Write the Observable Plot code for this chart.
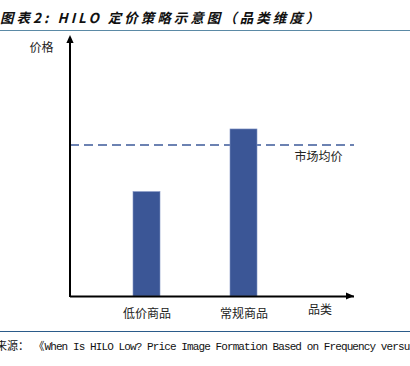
<!DOCTYPE html>
<html>
<head>
<meta charset="utf-8">
<script src="https://cdn.jsdelivr.net/npm/d3@7"></script>
<script src="https://cdn.jsdelivr.net/npm/@observablehq/plot@0.6"></script>
<style>
  html, body { margin: 0; padding: 0; background: #fff; }
  body { width: 410px; height: 366px; overflow: hidden; position: relative; }
  #title {
    line-height: 28px; padding-top: 3px; box-sizing: border-box;
    height: 31px;
    border-bottom: 1.5px solid #5b8aa6;
    font-family: "Noto Sans CJK SC", sans-serif; font-weight: bold; font-style: italic;
    font-size: 13.5px; letter-spacing: 3px; color: #111; white-space: nowrap;
  }
  #chart { height: 300px; }
  #chart svg { display: block; }
  #caption {
    border-top: 1.5px solid #2b5b8a; height: 30px; line-height: 27px;
    white-space: nowrap; overflow: hidden; color: #111; font-size: 11px;
  }
  #caption .cjk { font-family: "Noto Sans CJK SC", sans-serif; }
  #caption .lat { font-family: "Liberation Mono", monospace; letter-spacing: -0.9px; }
</style>
</head>
<body>
<div id="title"></div>
<div id="chart"></div>
<div id="caption"></div>
<script>
const titleText = "图表2: HILO 定价策略示意图（品类维度）";
const captionPrefix = "来源：";
const captionBook = "《";
const captionLatin = "When Is HILO Low? Price Image Formation Based on Frequency versus Depth of Price Advantage》";

const categories = ["低价商品", "常规商品"];
const prices = [40, 64];
const marketAvg = 58;
const marketLabel = "市场均价";
const yLabel = "价格";
const xLabel = "品类";

document.getElementById("title").textContent = titleText;
const cap = document.getElementById("caption");
cap.innerHTML = `<span class="cjk" style="margin-left:-4px">${captionPrefix}</span><span class="cjk" style="margin-left:10px">${captionBook}</span><span class="lat">${captionLatin}</span>`;

const data = categories.map((c, i) => ({category: c, price: prices[i]}));

const axesMark = (index, scales, values, dims) => {
  const {width, height, marginLeft, marginRight, marginTop, marginBottom} = dims;
  const x0 = marginLeft, y0 = height - marginBottom, yTop = marginTop, xEnd = width - marginRight;
  const g = d3.create("svg:g");
  g.append("line").attr("x1", x0).attr("x2", x0).attr("y1", y0 + 1).attr("y2", yTop + 6)
    .attr("stroke", "#000").attr("stroke-width", 2);
  g.append("path").attr("d", `M${x0},${yTop}L${x0 + 3.6},${yTop + 8}L${x0 - 3.6},${yTop + 8}Z`).attr("fill", "#000");
  g.append("path").attr("d", `M${xEnd},${y0}L${xEnd - 8},${y0 - 3.6}L${xEnd - 8},${y0 + 3.6}Z`).attr("fill", "#000");
  return g.node();
};

const chart = Plot.plot({
  width: 410,
  height: 300,
  marginLeft: 70,
  marginRight: 56,
  marginTop: 4,
  marginBottom: 35,
  style: {fontFamily: "'Noto Sans CJK SC', sans-serif", fontSize: "12px", color: "#222", background: "#fff"},
  x: {domain: categories, insetRight: 33.5, paddingInner: 0.723, paddingOuter: 0.646, tickSize: 0, tickPadding: 13, label: null},
  y: {domain: [0, 100], axis: null},
  marks: [
    Plot.ruleY([marketAvg], {stroke: "#3d5a99", strokeWidth: 1.5, strokeDasharray: "9,5"}),
    Plot.barY(data, {x: "category", y: "price", fill: "#3b5696", stroke: "#8193c4", strokeWidth: 0.6}),
    Plot.ruleY([0], {stroke: "#000", strokeWidth: 2}),
    axesMark,
    Plot.text([marketLabel], {y: marketAvg, frameAnchor: "right", dx: -12, dy: 12, textAnchor: "end", fill: "#222", fontSize: 12}),
    Plot.text([yLabel], {frameAnchor: "top-left", dx: -17, dy: 8, textAnchor: "end", fill: "#222", fontSize: 12}),
    Plot.text([xLabel], {frameAnchor: "bottom-right", dx: -22.5, dy: 17, fill: "#222", fontSize: 12})
  ]
});
document.getElementById("chart").appendChild(chart);
</script>
</body>
</html>
